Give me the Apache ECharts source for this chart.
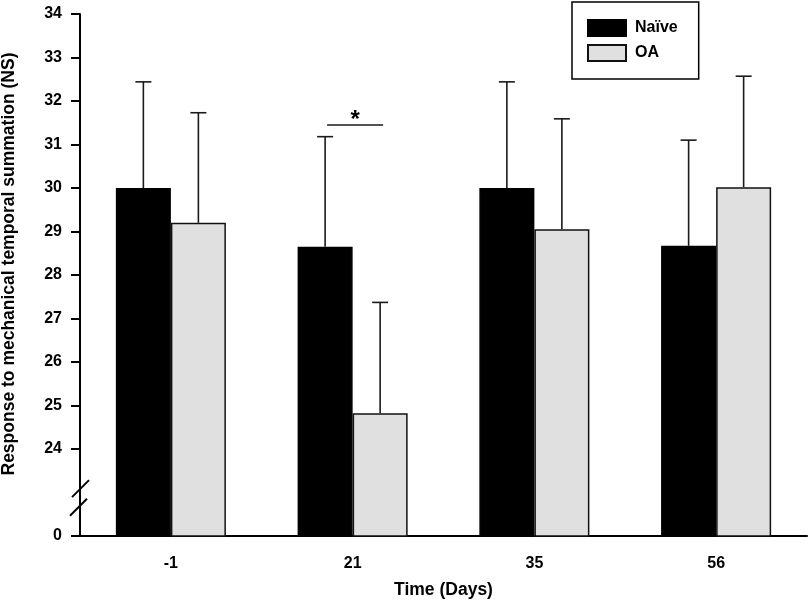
<!DOCTYPE html>
<html lang="en">
<head>
    <meta charset="utf-8">
    <title>Temporal summation</title>
    <script type="text/javascript" src="https://cdn.jsdelivr.net/npm/echarts@6/dist/echarts.min.js"></script>
    <style>
        html, body { margin: 0; padding: 0; background: #fff; }
        #box { width: 809px; height: 601px; }
    </style>
</head>
<body>
    <div id="box"></div>
    <script>
        // 数据
        var days = ['-1', '21', '35', '56'];
        var naiveMean = [30.0, 28.65, 30.0, 28.67];
        var naiveSem = [2.44, 2.53, 2.44, 2.43];
        var oaMean = [29.2, 24.82, 29.05, 30.02];
        var oaSem = [2.53, 2.55, 2.54, 2.55];
        // 显著性标记: 类别下标, 横线高度
        var sigIndex = [1];
        var sigLevel = [31.45];
        // y轴刻度 (22 画成 "0", 断轴)
        var yTicks = [22, 24, 25, 26, 27, 28, 29, 30, 31, 32, 33, 34];

        var FONT = 'Liberation Sans, Arial, sans-serif';
        var BAR_W = 0.3027;

        function errData(mean, sem) {
            var out = [];
            for (var i = 0; i < mean.length; i++) {
                out.push([i, mean[i], mean[i] + sem[i]]);
            }
            return out;
        }

        // 误差线
        function errRender(side) {
            return function (params, api) {
                var i = api.value(0);
                var band = api.size([1, 0])[0];
                var x = api.coord([i, api.value(1)])[0] + side * band * BAR_W / 2;
                var yBase = api.coord([i, api.value(1)])[1];
                var yTop = api.coord([i, api.value(2)])[1];
                var st = { stroke: '#1a1a1a', lineWidth: 1.6 };
                return {
                    type: 'group',
                    children: [
                        { type: 'line', shape: { x1: x, y1: yBase, x2: x, y2: yTop }, style: st },
                        { type: 'line', shape: { x1: x - 8, y1: yTop, x2: x + 8, y2: yTop }, style: st }
                    ]
                };
            };
        }

        var sigData = [];
        for (var k = 0; k < sigIndex.length; k++) sigData.push([sigIndex[k], sigLevel[k]]);

        function sigRender(params, api) {
            var i = api.value(0);
            var band = api.size([1, 0])[0];
            var p = api.coord([i, api.value(1)]);
            var x1 = p[0] - band * BAR_W / 2 + 2;
            var x2 = p[0] + band * BAR_W / 2 + 3;
            return {
                type: 'group',
                children: [
                    { type: 'line', shape: { x1: x1, y1: p[1], x2: x2, y2: p[1] },
                      style: { stroke: '#1a1a1a', lineWidth: 1.6 } },
                    { type: 'text', x: (x1 + x2) / 2, y: p[1] - 5,
                      style: { text: '*', fontSize: 24, fontWeight: 'bold', fontFamily: FONT,
                               fill: '#000', align: 'center', verticalAlign: 'middle' } }
                ]
            };
        }

        var myChart = echarts.init(document.getElementById('box'));

        var option = {
            animation: false,
            backgroundColor: '#fff',
            grid: { left: 80, right: 2, top: 14, bottom: 65, containLabel: false, outerBoundsMode: 'none' },
            legend: {
                orient: 'vertical',
                left: 572,
                top: 2,
                data: ['Naïve', 'OA'],
                itemWidth: 38,
                itemHeight: 16,
                itemGap: 7,
                padding: [17, 21, 17, 15],
                borderColor: '#000',
                borderWidth: 1.5,
                borderRadius: 0,
                icon: 'rect',
                textStyle: { fontSize: 16, fontWeight: 'bold', fontFamily: FONT, color: '#000', padding: [0, 0, 0, 4] }
            },
            xAxis: {
                type: 'category',
                data: days,
                name: 'Time (Days)',
                nameLocation: 'middle',
                nameGap: 45,
                nameTextStyle: { fontSize: 17.5, fontWeight: 'bold', fontFamily: FONT, color: '#000' },
                axisLine: { lineStyle: { color: '#000', width: 2 } },
                axisTick: { alignWithLabel: true, length: 8, lineStyle: { color: '#000', width: 2 } },
                axisLabel: { margin: 20, fontSize: 16, fontWeight: 'bold', fontFamily: FONT, color: '#000' }
            },
            yAxis: {
                type: 'value',
                min: 22,
                max: 34,
                interval: 1,
                name: 'Response to mechanical temporal summation (NS)',
                nameLocation: 'middle',
                nameGap: 62,
                nameTextStyle: { fontSize: 17.5, fontWeight: 'bold', fontFamily: FONT, color: '#000',
                                 padding: [0, 0, 0, 22] },
                splitLine: { show: false },
                axisLine: { show: true, lineStyle: { color: '#000', width: 2 } },
                axisTick: { show: true, length: 9, customValues: yTicks, lineStyle: { color: '#000', width: 2 } },
                axisLabel: {
                    margin: 18, fontSize: 16, fontWeight: 'bold', fontFamily: FONT, color: '#000',
                    customValues: yTicks,
                    formatter: function (v) { return v === 22 ? '0' : String(v); }
                }
            },
            series: [
                {
                    name: 'Naïve',
                    type: 'bar',
                    data: naiveMean,
                    barWidth: (BAR_W * 100) + '%',
                    barGap: '0%',
                    itemStyle: { color: '#000', borderColor: '#000', borderWidth: 1.5 }
                },
                {
                    name: 'OA',
                    type: 'bar',
                    data: oaMean,
                    barWidth: (BAR_W * 100) + '%',
                    barGap: '0%',
                    itemStyle: { color: '#e0e0e0', borderColor: '#111', borderWidth: 1.5 }
                },
                {
                    type: 'custom',
                    renderItem: errRender(-1),
                    data: errData(naiveMean, naiveSem),
                    z: 5,
                    silent: true
                },
                {
                    type: 'custom',
                    renderItem: errRender(1),
                    data: errData(oaMean, oaSem),
                    z: 5,
                    silent: true
                },
                {
                    type: 'custom',
                    renderItem: sigRender,
                    data: sigData,
                    z: 5,
                    silent: true
                }
            ]
        };

        myChart.setOption(option, true);

        // 断轴符号
        var axisX = 80;
        var breakVals = [23.09, 22.66];
        var marks = [];
        for (var j = 0; j < breakVals.length; j++) {
            var y = myChart.convertToPixel({ yAxisIndex: 0 }, breakVals[j]);
            var cx = axisX + (j === 0 ? 0.5 : -1.5);
            marks.push({
                type: 'line',
                shape: { x1: cx - 8.5, y1: y + 8.5, x2: cx + 8.5, y2: y - 8.5 },
                style: { stroke: '#000', lineWidth: 2 }
            });
        }
        myChart.setOption({ graphic: marks });
    </script>
</body>
</html>
